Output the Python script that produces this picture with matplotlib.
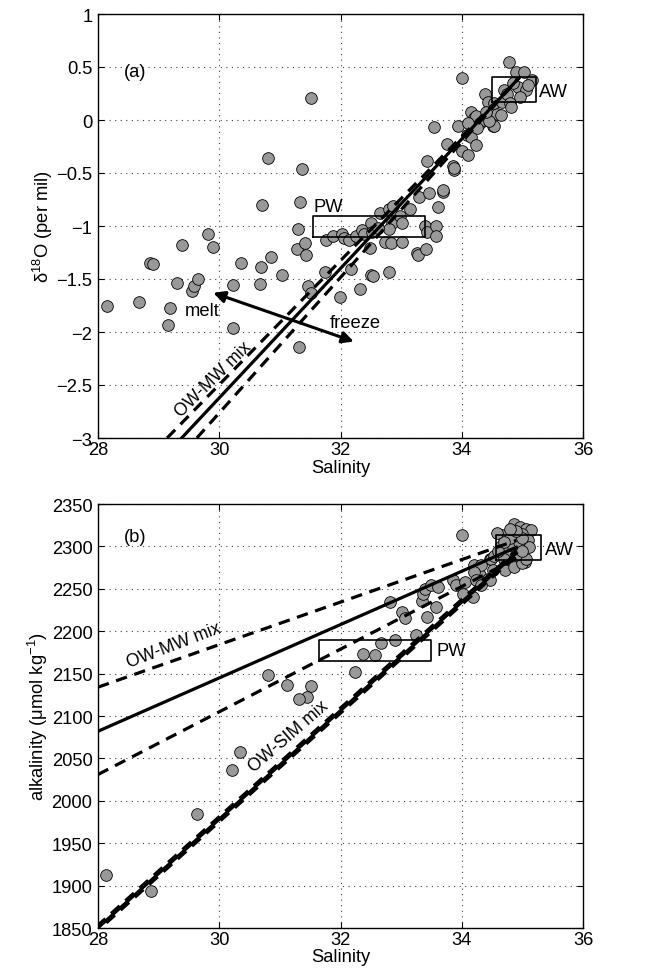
import matplotlib
matplotlib.use("Agg")
import matplotlib.pyplot as plt
from matplotlib.ticker import FixedLocator, FixedFormatter

plt.rcParams['font.family'] = ['Liberation Sans', 'DejaVu Sans']
plt.rcParams['mathtext.fontset'] = 'custom'
plt.rcParams['mathtext.rm'] = 'Liberation Sans'
plt.rcParams['mathtext.it'] = 'Liberation Sans:italic'
plt.rcParams['mathtext.default'] = 'regular'

# ---------------- data: panel (a) ----------------
a_sal = [28.15, 28.67, 28.86, 28.91, 29.15, 29.18, 29.30, 29.38, 29.55, 29.59, 29.65,
         29.82, 29.90, 30.22, 30.23, 30.36, 30.67, 30.69, 30.70, 30.81, 30.86, 31.03,
         31.30, 31.31, 31.28, 31.41, 31.43, 31.34, 31.37, 31.52, 31.47, 31.52, 31.74,
         31.99, 32.17, 32.32, 32.51, 32.53, 32.80, 32.48,
         31.76, 31.88, 32.03, 32.05, 32.14, 32.25, 32.35, 32.38, 32.50, 32.52, 32.65,
         32.80, 32.85, 32.975, 33.02, 32.80, 32.73, 32.83, 33.02, 33.15, 33.29, 33.46,
         33.39, 33.43, 33.57, 33.58, 33.27, 33.28, 33.41, 33.61, 33.69, 32.87, 32.62,
         33.42, 33.55, 33.685, 33.76, 33.86, 33.875, 33.87, 33.935, 34.00, 34.01, 34.085,
         34.11, 34.145, 34.16, 34.21, 34.24, 34.235, 34.30, 34.36, 34.385, 34.435, 34.485,
         34.52, 34.535, 34.585, 34.54, 34.66, 34.69, 34.74, 34.79, 34.81, 34.785, 34.90,
         35.03, 35.16, 34.93, 35.06, 34.96, 35.10, 34.85, 34.65, 34.45, 34.25, 34.10, 34.40]
a_d18o = [-1.75, -1.72, -1.35, -1.36, -1.93, -1.77, -1.54, -1.18, -1.615, -1.57, -1.50,
          -1.08, -1.20, -1.96, -1.56, -1.35, -1.55, -1.385, -0.80, -0.36, -1.29, -1.46,
          -1.03, -2.14, -1.22, -1.16, -1.27, -0.77, -0.46, 0.21, -1.57, -1.63, -1.43,
          -1.67, -1.41, -1.59, -1.46, -1.47, -1.43, -1.21,
          -1.13, -1.095, -1.08, -1.11, -1.13, -1.09, -1.04, -1.08, -0.97, -1.06, -0.88,
          -0.835, -0.97, -0.905, -0.97, -1.03, -1.15, -1.16, -1.15, -0.835, -0.73, -0.69,
          -1.00, -1.06, -1.00, -1.09, -1.25, -1.27, -1.22, -0.82, -0.68, -0.81, -1.02,
          -0.39, -0.07, -0.66, -0.23, -0.43, -0.47, -0.45, -0.06, -0.29, 0.40, -0.14,
          -0.33, 0.08, -0.16, 0.016, 0.04, -0.235, -0.025, 0.0, 0.245, 0.17, 0.016,
          -0.056, -0.06, 0.06, 0.16, 0.17, 0.28, 0.25, 0.16, 0.125, 0.55, 0.455,
          0.455, 0.38, 0.31, 0.28, 0.22, 0.33, 0.35, 0.05, -0.01, -0.08, -0.03, 0.08]

# mixing lines, panel (a): end points (salinity, d18O)
a_owmw_sal = [29.38, 34.95]
a_owmw_d18o = [-3.0, 0.40]
a_owmw_lo_sal = [29.14, 34.95]
a_owmw_lo_d18o = [-3.0, 0.40]
a_owmw_hi_sal = [29.63, 34.95]
a_owmw_hi_d18o = [-3.0, 0.40]
a_arrow_melt = (29.90, -1.63)
a_arrow_freeze = (32.22, -2.09)
a_pw_box = (31.54, 33.39, -1.10, -0.91)
a_aw_box = (34.50, 35.23, 0.17, 0.41)

a_xticks = [28, 30, 32, 34, 36]
a_xticklabels = ['28', '30', '32', '34', '36']
a_yticks = [1, 0.5, 0, -0.5, -1, -1.5, -2, -2.5, -3]
a_yticklabels = ['1', '0.5', '0', '\u22120.5', '\u22121', '\u22121.5', '\u22122', '\u22122.5', '\u22123']

# ---------------- data: panel (b) ----------------
b_sal = [28.14, 28.87, 29.64, 30.21, 30.35, 30.81, 31.11, 31.52, 31.44, 31.31, 32.24,
         32.37, 32.57, 32.66, 32.90, 33.24, 32.81, 33.02, 33.06, 33.43, 33.57, 33.34,
         33.36, 33.39, 33.50, 33.61, 33.86, 33.91, 34.05, 34.02, 34.19, 34.21, 34.30,
         34.32, 34.43, 34.46, 34.49, 34.01, 34.66, 34.71, 34.87, 35.04, 34.86, 34.96,
         35.06, 35.15, 34.99, 35.09, 35.11, 34.64, 34.54, 34.31, 34.21, 34.51, 34.99,
         35.06, 34.46, 34.24, 34.31, 34.75, 34.85, 34.95, 34.80, 34.90, 35.00, 34.70,
         34.60, 35.00, 34.90, 34.80, 34.70, 34.58]
b_alk = [1912, 1894, 1985, 2036, 2058, 2148, 2136, 2135, 2122, 2120, 2152,
         2173, 2172, 2186, 2190, 2196, 2234, 2223, 2216, 2217, 2229, 2236,
         2244, 2250, 2254, 2252, 2260, 2254, 2258, 2244, 2240, 2278, 2266,
         2258, 2262, 2285, 2285, 2313, 2313, 2272, 2276, 2282, 2326, 2323,
         2321, 2319, 2315, 2307, 2299, 2301, 2289, 2278, 2270, 2272, 2280,
         2285, 2260, 2260, 2254, 2295, 2300, 2305, 2310, 2290, 2295, 2285,
         2295, 2310, 2318, 2320, 2305, 2316]

b_owmw_sal = [28.0, 34.9]
b_owmw_alk = [2082, 2299]
b_owmw_hi_sal = [28.0, 34.9]
b_owmw_hi_alk = [2134, 2307]
b_owmw_lo_sal = [28.0, 34.9]
b_owmw_lo_alk = [2031, 2286]
b_owsim_sal = [27.98, 34.9]
b_owsim_alk = [1849, 2292]
b_owsim_d1_sal = [27.98, 34.9]
b_owsim_d1_alk = [1852, 2295]
b_owsim_d2_sal = [27.98, 34.9]
b_owsim_d2_alk = [1846, 2289]
b_pw_box = (31.64, 33.50, 2165, 2190)
b_aw_box = (34.56, 35.30, 2284, 2314)

b_xticks = [28, 30, 32, 34, 36]
b_xticklabels = ['28', '30', '32', '34', '36']
b_yticks = [1850, 1900, 1950, 2000, 2050, 2100, 2150, 2200, 2250, 2300, 2350]
b_yticklabels = [str(v) for v in b_yticks]

# ---------------- drawing ----------------
FS = 13.2
fig = plt.figure(figsize=(6.61, 9.78), dpi=100)
ax1 = fig.add_axes([98/661, 1-439/978, 485/661, 424/978])
ax2 = fig.add_axes([98/661, 1-929/978, 485/661, 424/978])

DASH = (0, (3.6, 2.4))
LW = 2.3


def style(ax, xt, xtl, yt, ytl, xlim, ylim):
    ax.set_xlim(*xlim)
    ax.set_ylim(*ylim)
    ax.xaxis.set_major_locator(FixedLocator(xt))
    ax.xaxis.set_major_formatter(FixedFormatter(xtl))
    ax.yaxis.set_major_locator(FixedLocator(yt))
    ax.yaxis.set_major_formatter(FixedFormatter(ytl))
    ax.tick_params(direction='in', top=True, right=True, length=4, width=0.8,
                   labelsize=FS, pad=2)
    ax.tick_params(axis='y', pad=4)
    ax.grid(True, linestyle=(0, (1, 4)), color='0.25', linewidth=0.8)
    for s in ax.spines.values():
        s.set_linewidth(1.0)


def box(ax, b):
    x0, x1, y0, y1 = b
    ax.plot([x0, x1, x1, x0, x0], [y0, y0, y1, y1, y0], color='k', lw=1.2, zorder=4)


# panel (a)
style(ax1, a_xticks, a_xticklabels, a_yticks, a_yticklabels, (28, 36), (-3, 1))
ax1.plot(a_sal, a_d18o, 'o', ms=8.4, mfc='#999999', mec='k', mew=0.6, zorder=3)
ax1.plot(a_owmw_sal, a_owmw_d18o, color='k', lw=LW, zorder=5)
ax1.plot(a_owmw_lo_sal, a_owmw_lo_d18o, color='k', lw=LW, ls=DASH, zorder=5)
ax1.plot(a_owmw_hi_sal, a_owmw_hi_d18o, color='k', lw=LW, ls=DASH, zorder=5)
ax1.annotate('', xy=a_arrow_melt, xytext=a_arrow_freeze,
             arrowprops=dict(arrowstyle='<|-|>', lw=2.2, color='k',
                             mutation_scale=17, shrinkA=0, shrinkB=0), zorder=6)
box(ax1, a_pw_box)
box(ax1, a_aw_box)
ax1.text(28.61, 0.46, '(a)', fontsize=FS, ha='center', va='center')
ax1.text(31.80, -0.82, 'PW', fontsize=FS, ha='center', va='center')
ax1.text(35.51, 0.27, 'AW', fontsize=FS, ha='center', va='center')
ax1.text(29.72, -1.80, 'melt', fontsize=FS, ha='center', va='center')
ax1.text(32.24, -1.91, 'freeze', fontsize=FS, ha='center', va='center')
ax1.text(29.90, -2.44, 'OW-MW mix', fontsize=FS-0.5, ha='center', va='center',
         rotation=44.5, rotation_mode='anchor')
ax1.set_xlabel('Salinity', fontsize=FS, labelpad=1)
ax1.set_ylabel('\u03b4$^{18}$O (per mil)', fontsize=FS, labelpad=1)

# panel (b)
style(ax2, b_xticks, b_xticklabels, b_yticks, b_yticklabels, (28, 36), (1850, 2350))
ax2.plot(b_sal, b_alk, 'o', ms=8.4, mfc='#999999', mec='k', mew=0.6, zorder=3)
ax2.plot(b_owmw_sal, b_owmw_alk, color='k', lw=LW, zorder=5)
ax2.plot(b_owmw_hi_sal, b_owmw_hi_alk, color='k', lw=LW, ls=DASH, zorder=5)
ax2.plot(b_owmw_lo_sal, b_owmw_lo_alk, color='k', lw=LW, ls=DASH, zorder=5)
ax2.plot(b_owsim_sal, b_owsim_alk, color='k', lw=LW, zorder=5)
ax2.plot(b_owsim_d1_sal, b_owsim_d1_alk, color='k', lw=LW, ls=DASH, zorder=5)
ax2.plot(b_owsim_d2_sal, b_owsim_d2_alk, color='k', lw=LW, ls=(2, (3.6, 2.4)), zorder=5)
box(ax2, b_pw_box)
box(ax2, b_aw_box)
ax2.text(28.61, 2312, '(b)', fontsize=FS, ha='center', va='center')
ax2.text(33.82, 2177, 'PW', fontsize=FS, ha='center', va='center')
ax2.text(35.62, 2296, 'AW', fontsize=FS, ha='center', va='center')
ax2.text(29.25, 2184, 'OW-MW mix', fontsize=FS-0.5, ha='center', va='center',
         rotation=21, rotation_mode='anchor')
ax2.text(31.15, 2076, 'OW-SIM mix', fontsize=FS-0.5, ha='center', va='center',
         rotation=41, rotation_mode='anchor')
ax2.set_xlabel('Salinity', fontsize=FS, labelpad=0)
ax2.set_ylabel('alkalinity (\u03bcmol kg$^{\u22121}$)', fontsize=FS, labelpad=1)

fig.savefig('out.png', dpi=100)
